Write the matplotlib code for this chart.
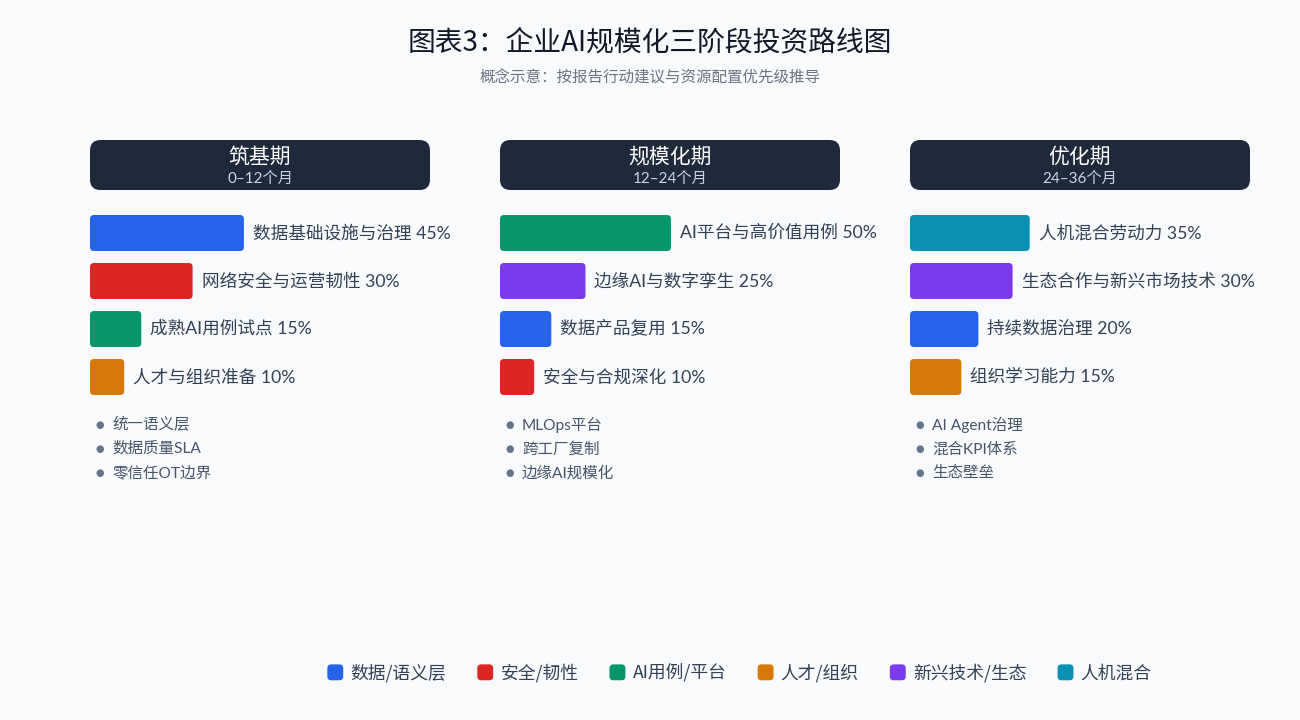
import matplotlib
matplotlib.use("Agg")
import matplotlib.pyplot as plt
from matplotlib.patches import FancyBboxPatch, Patch
from matplotlib.legend_handler import HandlerPatch

plt.rcParams["font.family"] = ["Noto Sans CJK SC", "DejaVu Sans"]

W, H = 1300, 720
BG = "#f8fafc"
HEADER = "#1e293b"

# ---- data -------------------------------------------------------------
phases = ["筑基期", "规模化期", "优化期"]
periods = ["0–12个月", "12–24个月", "24–36个月"]

items_1 = ["数据基础设施与治理", "网络安全与运营韧性", "成熟AI用例试点", "人才与组织准备"]
share_1 = [45, 30, 15, 10]
cat_1 = ["数据/语义层", "安全/韧性", "AI用例/平台", "人才/组织"]

items_2 = ["AI平台与高价值用例", "边缘AI与数字孪生", "数据产品复用", "安全与合规深化"]
share_2 = [50, 25, 15, 10]
cat_2 = ["AI用例/平台", "新兴技术/生态", "数据/语义层", "安全/韧性"]

items_3 = ["人机混合劳动力", "生态合作与新兴市场技术", "持续数据治理", "组织学习能力"]
share_3 = [35, 30, 20, 15]
cat_3 = ["人机混合", "新兴技术/生态", "数据/语义层", "人才/组织"]

notes_1 = ["统一语义层", "数据质量SLA", "零信任OT边界"]
notes_2 = ["MLOps平台", "跨工厂复制", "边缘AI规模化"]
notes_3 = ["AI Agent治理", "混合KPI体系", "生态壁垒"]

categories = ["数据/语义层", "安全/韧性", "AI用例/平台", "人才/组织", "新兴技术/生态", "人机混合"]
cat_colors = ["#2563eb", "#dc2626", "#059669", "#d97706", "#7c3aed", "#0891b2"]
color_of = dict(zip(categories, cat_colors))

columns = [
    (items_1, share_1, cat_1, notes_1),
    (items_2, share_2, cat_2, notes_2),
    (items_3, share_3, cat_3, notes_3),
]

# ---- layout (pixels) --------------------------------------------------
col_x = [90, 500, 910]
col_w = 340
px_per_pct = 3.42
row_h = 48
bars_top = 209
LATIN = ["Lato", "Noto Sans CJK SC"]


def fx(px):
    return px / W


def fy(py):
    return 1 - py / H


class RoundSwatch(HandlerPatch):
    def create_artists(self, legend, orig_handle, xdescent, ydescent, width, height,
                       fontsize, trans):
        s = min(width, height)
        p = FancyBboxPatch((-xdescent + (width - s) / 2, -ydescent + (height - s) / 2), s, s,
                           boxstyle=f"round,pad=0,rounding_size={s * 0.25}",
                           facecolor=orig_handle.get_facecolor(), edgecolor="none",
                           transform=trans)
        return [p]


fig = plt.figure(figsize=(W / 100, H / 100), dpi=100, facecolor=BG)

fig.text(0.5, fy(42), "图表3：企业AI规模化三阶段投资路线图", ha="center", va="center",
         fontsize=20, color="#111827")
fig.text(0.5, fy(78), "概念示意：按报告行动建议与资源配置优先级推导", ha="center", va="center",
         fontsize=11.2, color="#6b7280")

for x0, phase, period, (items, shares, cats, notes) in zip(col_x, phases, periods, columns):
    # header box
    fig.patches.append(FancyBboxPatch(
        (fx(x0), fy(190)), fx(col_w), 50 / H,
        boxstyle="round,pad=0,rounding_size=0.008", mutation_aspect=W / H,
        transform=fig.transFigure, facecolor=HEADER, edgecolor="none"))
    fig.text(fx(x0 + col_w / 2), fy(157), phase, ha="center", va="center",
             fontsize=15, color="white")
    fig.text(fx(x0 + col_w / 2), fy(179), period, ha="center", va="center",
             fontsize=11, color="#cbd5e1", family=LATIN)

    # bars
    n = len(items)
    ax = fig.add_axes([fx(x0), fy(bars_top + n * row_h), fx(col_w), n * row_h / H])
    ax.set_xlim(0, col_w / px_per_pct)
    ax.set_ylim(n - 0.5, -0.5)
    ax.axis("off")
    bh = 36 / row_h
    asp = (1 / row_h) / (1 / px_per_pct)
    for i, (name, v, c) in enumerate(zip(items, shares, cats)):
        ax.add_patch(FancyBboxPatch(
            (0, i - bh / 2), v, bh,
            boxstyle=f"round,pad=0,rounding_size={4 / px_per_pct}", mutation_aspect=asp,
            facecolor=color_of[c], edgecolor="none"))
        ax.text(v + 9 / px_per_pct, i, f"{name} {v}%", ha="left", va="center",
                fontsize=12.7, color="#334155", family=LATIN)

    # notes
    for j, note in enumerate(notes):
        y = 425 + j * 24
        fig.text(fx(x0 + 10), fy(y), "●", ha="center", va="center", fontsize=7,
                 color="#64748b", family=["DejaVu Sans"])
        fig.text(fx(x0 + 22), fy(y), note, ha="left", va="center", fontsize=11.2,
                 color="#475569", family=LATIN)

handles = [Patch(facecolor=c, edgecolor="none", label=l) for l, c in zip(categories, cat_colors)]
fig.legend(handles=handles, loc="center", bbox_to_anchor=(fx(739), fy(673)), ncol=6,
           frameon=False, fontsize=12.8, handlelength=1.0, handleheight=1.0,
           handletextpad=0.35, columnspacing=1.7, labelcolor="#334155",
           handler_map={Patch: RoundSwatch()})

fig.savefig("out.png", dpi=100, facecolor=BG)
